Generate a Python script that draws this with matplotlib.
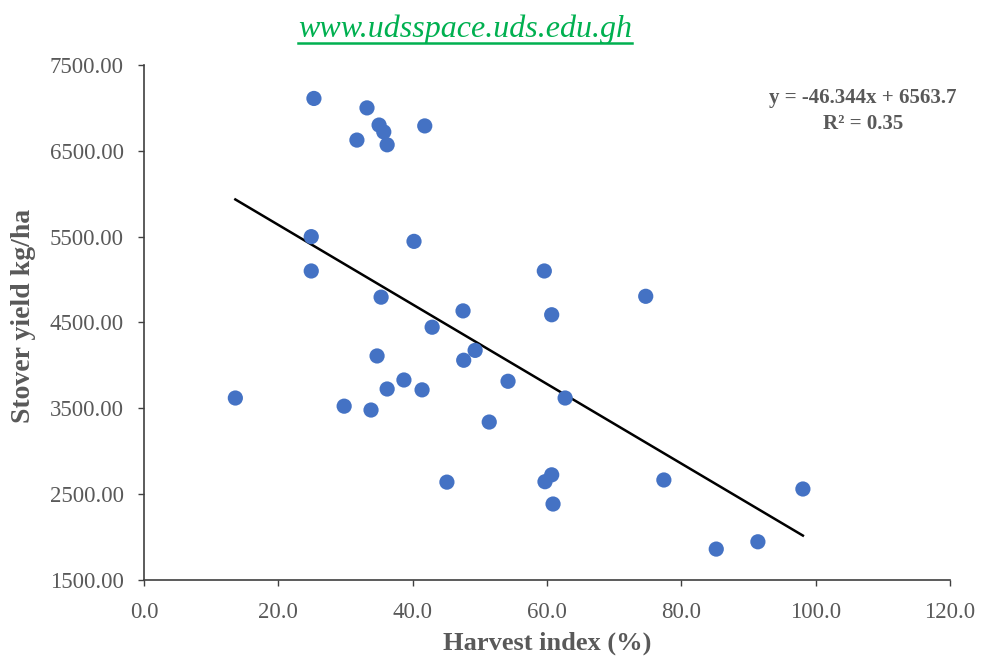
import matplotlib.pyplot as plt
from matplotlib.lines import Line2D

plt.rcParams['font.family'] = ['Liberation Serif', 'DejaVu Serif']

# Harvest index (%) and stover yield (kg/ha)
harvest_index = [13.6, 25.3, 33.2, 35.0, 35.7, 41.8, 31.7, 36.2,
                 24.9, 40.2, 24.9, 59.6, 35.3, 74.7, 47.5, 60.7,
                 42.9, 49.3, 47.6, 34.7, 38.7, 54.2, 36.2, 41.4,
                 62.7, 29.8, 33.8, 51.4, 60.7, 59.7, 45.1, 77.4,
                 98.1, 60.9, 91.4, 85.2]
stover_yield = [3620, 7110, 7000, 6800, 6720, 6790, 6625, 6570,
                5500, 5445, 5100, 5100, 4795, 4805, 4635, 4590,
                4445, 4175, 4060, 4110, 3830, 3815, 3725, 3715,
                3620, 3525, 3480, 3340, 2725, 2645, 2640, 2665,
                2560, 2385, 1945, 1860]

# trendline from the equation on the chart
slope = -46.344
intercept = 6563.7
r_squared = 0.35

x_ticks = [0, 20, 40, 60, 80, 100, 120]
y_ticks = [1500, 2500, 3500, 4500, 5500, 6500, 7500]

GRAY = '#595959'

fig = plt.figure(figsize=(9.87, 6.59), dpi=100)
ax = fig.add_axes([0.1459, 0.1199, 0.8166, 0.7815])

ax.scatter(harvest_index, stover_yield, s=120, color='#4472C4', zorder=3,
           edgecolors='none')

x0, x1 = min(harvest_index), max(harvest_index)
ax.plot([x0, x1], [slope * x0 + intercept, slope * x1 + intercept],
        color='black', lw=1.8, zorder=2)

ax.set_xlim(0, 120)
ax.set_ylim(1500, 7500)
ax.set_xticks(x_ticks)
ax.set_yticks(y_ticks)
ax.set_xticklabels(['%.1f' % v for v in x_ticks])
ax.set_yticklabels(['%.2f' % v for v in y_ticks])
ax.tick_params(labelsize=16.5, labelcolor=GRAY, color='#404040', length=4.5,
               width=1)
ax.tick_params(axis='x', pad=11)
ax.tick_params(axis='y', pad=10)

for side in ['top', 'right']:
    ax.spines[side].set_visible(False)
for side in ['left', 'bottom']:
    ax.spines[side].set_color('#404040')
    ax.spines[side].set_linewidth(1.2)

ax.set_xlabel('Harvest index (%)', fontsize=19, fontweight='bold',
              color=GRAY)
ax.set_ylabel('Stover yield kg/ha', fontsize=20, fontweight='bold',
              color=GRAY)
ax.xaxis.set_label_coords(0.5, -0.100)
ax.yaxis.set_label_coords(-0.134, 0.513)

eq = 'y = %.3fx + %.1f\nR² = %.2f' % (slope, intercept, r_squared)
fig.text(0.9696, 0.832, eq, ha='right', va='center', fontsize=15,
         fontweight='bold', color=GRAY, multialignment='center',
         linespacing=1.42)

title = fig.text(0.471, 0.955, 'www.udsspace.uds.edu.gh', ha='center',
                 va='center', fontsize=23, style='italic', color='#00B050')
fig.canvas.draw()
bb = title.get_window_extent().transformed(fig.transFigure.inverted())
fig.add_artist(Line2D([bb.x0, bb.x1], [bb.y0 + 0.002, bb.y0 + 0.002],
                      transform=fig.transFigure, color='#00B050', lw=1.8))

fig.savefig('out.png', dpi=100)
